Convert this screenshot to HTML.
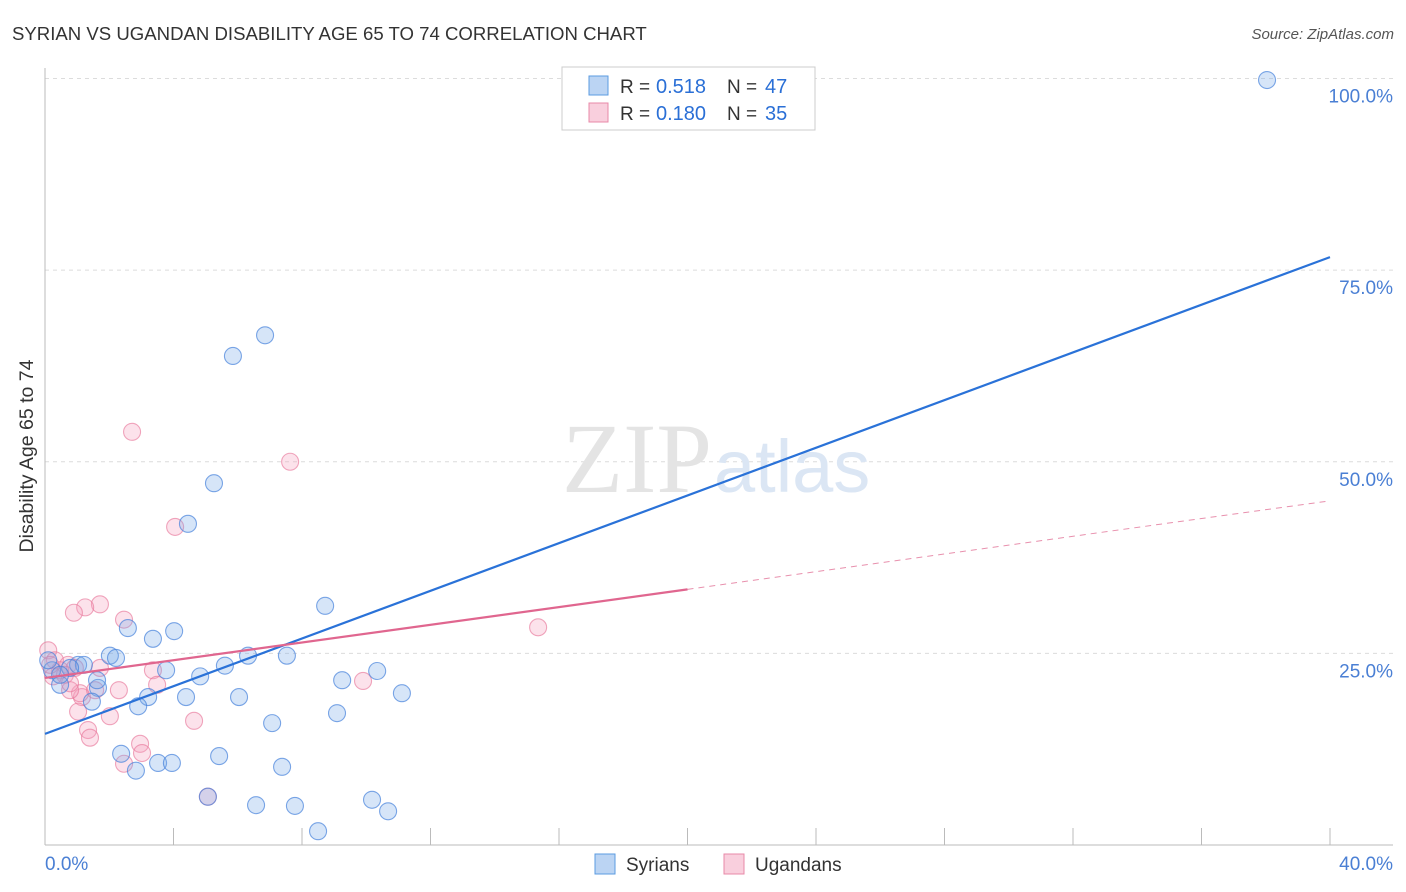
<!DOCTYPE html>
<html><head><meta charset="utf-8"><style>
body{margin:0;background:#fff;font-family:"Liberation Sans",sans-serif;}
#wrap{position:relative;width:1406px;height:892px;overflow:hidden;}
</style></head><body>
<div id="wrap">
<svg id="svg" width="1406" height="892" style="position:absolute;left:0;top:0;font-family:'Liberation Sans',sans-serif"></svg>
</div>
<script>
const blueX=[38.04,6.85,5.85,5.26,4.45,8.72,2.58,4.02,3.36,2.02,2.21,6.32,7.53,1.03,1.21,3.77,5.60,10.34,0.78,0.22,0.47,1.65,1.62,9.25,4.83,3.21,4.39,6.04,11.11,1.46,2.90,9.09,7.07,2.37,5.42,3.52,3.95,2.83,7.38,5.07,6.57,7.78,10.18,10.68,8.50,0.1,0.47];
const blueY=[99.8,66.5,63.8,47.2,41.9,31.2,28.3,27.9,26.9,24.7,24.4,24.7,24.7,23.5,23.5,22.8,23.4,22.7,23.1,22.8,20.9,20.5,21.5,21.5,22.0,19.3,19.3,19.3,19.8,18.7,18.1,17.2,15.9,11.9,11.6,10.7,10.7,9.7,10.2,6.3,5.2,5.1,5.9,4.4,1.8,24.1,22.2];
const pinkX=[2.71,7.63,4.05,1.71,1.25,0.90,2.46,0.1,0.31,0.72,0.93,0.47,0.62,3.36,0.25,1.71,3.49,2.30,1.15,1.09,0.78,2.02,1.03,4.64,1.34,2.96,1.40,3.02,2.46,5.07,9.90,15.35,0.16,0.78,1.56];
const pinkY=[53.9,50.0,41.5,31.4,31.0,30.3,29.4,25.4,24.1,23.5,23.1,22.8,22.2,22.8,22.0,23.1,20.9,20.2,19.3,19.8,20.2,16.8,17.4,16.2,15.0,13.2,14.0,12.0,10.6,6.3,21.4,28.4,23.5,21.1,20.2];
const blueLine=[14.5,76.7];
const pinkLine=[21.8,44.9];
const pinkSolidEnd=20;
const yTicks=[25,50,75,100];
const yTickLabels=["25.0%","50.0%","75.0%","100.0%"];
const xTicks=[0,4,8,12,16,20,24,28,32,36,40];

const X=v=>45+v*1285/40, Y=v=>845-v*7.665;
const svg=document.getElementById('svg');const NS='http://www.w3.org/2000/svg';
function mk(t,a,p){const e=document.createElementNS(NS,t);for(const k in a)e.setAttribute(k,a[k]);(p||svg).appendChild(e);return e;}
function tx(x,y,s,a){const e=mk('text',Object.assign({x:x,y:y},a));e.textContent=s;return e;}

yTicks.forEach((v,i)=>{
 const g=mk('line',{x1:45,x2:1393,y1:Y(v),y2:Y(v),stroke:'#dcdcdc','stroke-dasharray':'4,4'});
 
 
 const t=tx(1393,Y(v)+24,yTickLabels[i],{'text-anchor':'end','font-size':19,fill:'#4a7fd4'});
 
 
});
mk('line',{x1:45,x2:45,y1:68,y2:845,stroke:'#bbb'});
mk('line',{x1:45,x2:1393,y1:845,y2:845,stroke:'#bbb'});
xTicks.forEach(v=>{
 const l=mk('line',{x1:X(v),x2:X(v),y1:828,y2:845,stroke:'#bbb'});
 
 
});
const wm=tx(712,492,'ZIP',{'text-anchor':'end','font-size':100,fill:'#e4e4e4','font-family':'Liberation Serif,serif'});


const wm2=tx(714,492,'atlas',{'font-size':74,fill:'#dbe6f4'});


function pts(xs,ys,fill,stroke,name){xs.forEach((v,i)=>{
 const c=mk('circle',{cx:X(v),cy:Y(ys[i]),r:8.5,fill:fill,stroke:stroke,'stroke-width':1.1});
 
 
});}
pts(pinkX,pinkY,'rgba(244,160,188,0.3)','rgba(232,120,155,0.65)','ugandan-point');
pts(blueX,blueY,'rgba(120,170,232,0.3)','rgba(70,130,220,0.7)','syrian-point');
const bl=mk('line',{x1:X(0),y1:Y(blueLine[0]),x2:X(40),y2:Y(blueLine[1]),stroke:'#2a72d8','stroke-width':2.2});


const pe=pinkLine[0]+(pinkLine[1]-pinkLine[0])*pinkSolidEnd/40;
const pl=mk('line',{x1:X(0),y1:Y(pinkLine[0]),x2:X(pinkSolidEnd),y2:Y(pe),stroke:'#e0668f','stroke-width':2.2});


const pd=mk('line',{x1:X(pinkSolidEnd),y1:Y(pe),x2:X(40),y2:Y(pinkLine[1]),stroke:'#e890ad','stroke-width':1,'stroke-dasharray':'6,5'});


const ti=tx(12,40,'SYRIAN VS UGANDAN DISABILITY AGE 65 TO 74 CORRELATION CHART',{'font-size':18.6,fill:'#333'});


const so=tx(1394,39,'Source: ZipAtlas.com',{'text-anchor':'end','font-size':15,fill:'#555','font-style':'italic'});


const yl=tx(0,0,'Disability Age 65 to 74',{'font-size':19.5,fill:'#333','text-anchor':'middle',transform:'translate(33,456) rotate(-90)'});


const x0=tx(45,870,'0.0%',{'font-size':19,fill:'#4a7fd4'});


const x1=tx(1393,870,'40.0%',{'text-anchor':'end','font-size':19,fill:'#4a7fd4'});


const lg=mk('rect',{x:562,y:67,width:253,height:63,fill:'#fff',stroke:'#ccc'});


mk('rect',{x:589,y:76,width:19,height:19,fill:'rgba(120,170,232,0.5)',stroke:'#5b9be0'});
mk('rect',{x:589,y:103,width:19,height:19,fill:'rgba(244,160,188,0.5)',stroke:'#e88aa8'});
[['0.518','47',93],['0.180','35',120]].forEach(r=>{
 const a=tx(620,r[2],'R = ',{'font-size':19,fill:'#333'});
 
 
 const b=tx(656,r[2],r[0],{'font-size':20,fill:'#2a6fd6'});
 
 
 const c=tx(727,r[2],'N = ',{'font-size':19,fill:'#333'});
 
 
 const d=tx(765,r[2],r[1],{'font-size':20,fill:'#2a6fd6'});
 
 
});
mk('rect',{x:595,y:854,width:20,height:20,fill:'rgba(120,170,232,0.5)',stroke:'#5b9be0'});
const s1=tx(626,871,'Syrians',{'font-size':19,fill:'#333'});


mk('rect',{x:724,y:854,width:20,height:20,fill:'rgba(244,160,188,0.5)',stroke:'#e88aa8'});
const s2=tx(755,871,'Ugandans',{'font-size':19,fill:'#333'});


</script>
</body></html>
